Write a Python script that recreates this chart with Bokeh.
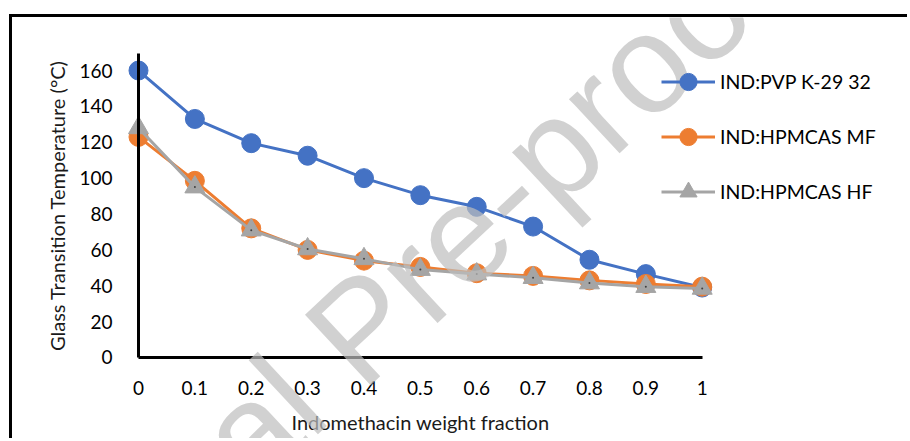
from bokeh.plotting import figure
from bokeh.models import Legend, LegendItem, FixedTicker, Range1d, Label
from bokeh.embed import file_html
from bokeh.resources import INLINE

# ---- data ----
x_vals = [0, 0.1, 0.2, 0.3, 0.4, 0.5, 0.6, 0.7, 0.8, 0.9, 1]
x_tick_labels = ["0", "0.1", "0.2", "0.3", "0.4", "0.5", "0.6", "0.7", "0.8", "0.9", "1"]
y_ticks = [0, 20, 40, 60, 80, 100, 120, 140, 160]

series_names = ["IND:PVP K-29 32", "IND:HPMCAS MF", "IND:HPMCAS HF"]
tg_pvp = [160, 133, 119.5, 112.5, 100, 90.5, 84, 73, 54.5, 46.5, 39]
tg_mf = [123, 98.5, 72, 60, 54, 50.5, 47, 45.5, 43, 41, 39.5]
tg_hf = [128, 95, 71, 60.5, 55, 49, 46.5, 44.5, 41.5, 39.5, 38.5]

BLUE = "#4472C4"
ORANGE = "#ED7D31"
GRAY = "#A5A5A5"

TICK_FONT = "Lato"
TITLE_FONT = "Lato"

# frame covers the whole canvas; axes are placed at x=0 / y=0
p = figure(
    width=898, height=424,
    output_backend="svg", toolbar_location=None,
    x_range=Range1d(-0.22352, 1.36952), y_range=Range1d(-46.84, 189.57),
    min_border_left=0, min_border_right=0, min_border_top=0, min_border_bottom=0,
    styles={"margin-left": "9px", "margin-top": "14px",
            "border-left": "3px solid black", "border-top": "3px solid black"},
)
p.title.visible = False
p.background_fill_color = "white"
p.border_fill_color = "white"
p.outline_line_color = None
p.xgrid.visible = False
p.ygrid.visible = False

for ax in (p.xaxis[0], p.yaxis[0]):
    ax.axis_line_color = "black"
    ax.axis_line_width = 3
    ax.major_tick_line_color = None
    ax.minor_tick_line_color = None
    ax.major_label_text_font = TICK_FONT
    ax.major_label_text_font_size = "19px"
    ax.major_label_text_color = "black"
    ax.axis_label_text_font = TITLE_FONT
    ax.axis_label_text_font_style = "normal"
    ax.axis_label_text_color = "#1a1a1a"

p.xaxis.ticker = FixedTicker(ticks=x_vals)
p.xaxis.major_label_overrides = dict(zip(x_vals, x_tick_labels))
p.xaxis.fixed_location = 0
p.xaxis.bounds = (0, 1)
p.xaxis.major_label_standoff = 18
p.xaxis.axis_label = "Indomethacin weight fraction"
p.xaxis.axis_label_text_font_size = "20px"
p.xaxis.axis_label_standoff = 11

p.yaxis.ticker = FixedTicker(ticks=y_ticks)
p.yaxis.fixed_location = 0
p.yaxis.bounds = (0, 169.5)
p.yaxis.major_label_standoff = 20
p.yaxis.axis_label = "Glass Transition Temperature (°C)"
p.yaxis.axis_label_text_font_size = "20px"
p.yaxis.axis_label_standoff = 7

# series
l1 = p.line(x_vals, tg_pvp, line_color=BLUE, line_width=3)
m1 = p.scatter(x_vals, tg_pvp, marker="circle", size=19, fill_color=BLUE, line_color=BLUE)

l2 = p.line(x_vals, tg_mf, line_color=ORANGE, line_width=3)
m2 = p.scatter(x_vals, tg_mf, marker="circle", size=19, fill_color=ORANGE, line_color=ORANGE)
p.scatter(x_vals, tg_mf, marker="circle", size=3, fill_color="#E0102A", line_color=None)

l3 = p.line(x_vals, tg_hf, line_color=GRAY, line_width=3)
m3 = p.scatter(x_vals, tg_hf, marker="triangle", size=20, fill_color=GRAY, line_color=GRAY)
p.scatter(x_vals, tg_hf, marker="circle", size=2, fill_color="#404040", line_color=None)

# legend; location is measured from the frame's bottom-left corner (canvas origin at page x=12, y=17)
legend = Legend(
    items=[
        LegendItem(label=series_names[0], renderers=[l1, m1]),
        LegendItem(label=series_names[1], renderers=[l2, m2]),
        LegendItem(label=series_names[2], renderers=[l3, m3]),
    ],
    location=(661 - 12, 441 - 213),
    orientation="vertical",
    glyph_width=54, glyph_height=43, label_height=43,
    spacing=12, label_standoff=5, padding=0, margin=0,
    label_text_font=TICK_FONT, label_text_font_size="19.5px", label_text_color="black",
    background_fill_alpha=0, border_line_alpha=0,
)
p.add_layout(legend)

# watermark
wm = Label(x=0.3938, y=16.2, text="Journal Pre-proof", angle=43, angle_units="deg",
           text_font="Liberation Sans", text_font_size="140px",
           text_color="#bdbdbd", text_alpha=0.7,
           text_align="center", text_baseline="alphabetic")
p.add_layout(wm)

open("out.html", "w").write(file_html(p, INLINE))
